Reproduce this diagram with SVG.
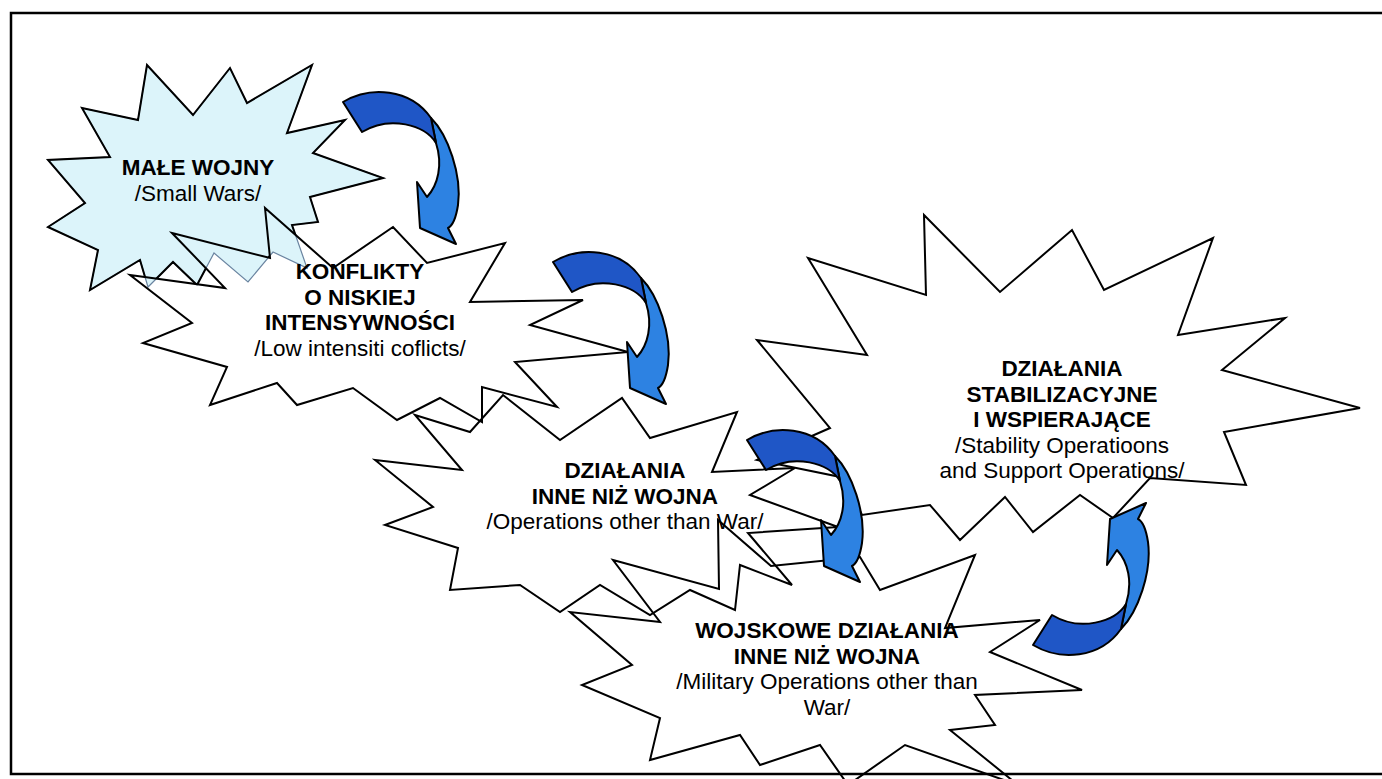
<svg xmlns="http://www.w3.org/2000/svg" width="1382" height="779" viewBox="0 0 1382 779">
<style>
.star{fill:none;stroke:#000;stroke-width:2;stroke-linejoin:miter}
.b{font-family:"Liberation Sans",Arial,sans-serif;font-weight:bold;font-size:22.5px;text-anchor:middle;fill:#000}
.r{font-family:"Liberation Sans",Arial,sans-serif;font-size:22.5px;text-anchor:middle;fill:#000}
.dk{fill:#1f56c6;stroke:#000;stroke-width:2;stroke-linejoin:round}
.lt{fill:#2d82e2;stroke:#000;stroke-width:2;stroke-linejoin:round}
</style>
<defs>
<mask id="m2">
<rect width="1382" height="779" fill="#fff"/>
<polygon fill="#000" points="172,233 270,258 265,208 333,268 393,227 427,263 505,243 470,302 583,300 530,325 628,352 515,362 557,407 482,387 482,422 440,398 397,420 353,388 297,405 277,383 210,405 227,367 143,343 192,323 130,275 225,288"/>
</mask>
<g id="arrow">
<path class="lt" d="M431,118 C448,135 462,175 458,205 C456,218 452,226 448,228 L456,244 L420,228 L417,182 L427,197 C438,185 443,165 436,143 Z"/>
<path class="dk" d="M343,102 C370,86 410,88 431,118 L436,143 C425,125 390,115 362,132 Z"/>
</g>
</defs>
<rect x="11" y="13" width="1400" height="761" fill="#fff" stroke="#000" stroke-width="2.5"/>

<g id="node-small-wars">
<polygon points="82,108 138,120 147,65 193,115 230,68 247,103 312,65 287,133 345,120 313,153 383,178 310,197 318,222 292,225 307,268 273,252 248,282 214,253 197,285 173,262 148,287 140,260 90,290 98,250 48,227 85,203 48,160 110,157" fill="#dcf4fa" stroke="#6a84a0" stroke-width="1.2"/>
<polygon class="star" mask="url(#m2)" points="82,108 138,120 147,65 193,115 230,68 247,103 312,65 287,133 345,120 313,153 383,178 310,197 318,222 292,225 307,268 273,252 248,282 214,253 197,285 173,262 148,287 140,260 90,290 98,250 48,227 85,203 48,160 110,157"/>
<text class="b" x="198" y="175">MAŁE WOJNY</text>
<text class="r" x="198" y="200.5">/Small Wars/</text>
</g>

<g id="node-low-intensity">
<polygon class="star" points="172,233 270,258 265,208 333,268 393,227 427,263 505,243 470,302 583,300 530,325 628,352 515,362 557,407 482,387 482,422 440,398 397,420 353,388 297,405 277,383 210,405 227,367 143,343 192,323 130,275 225,288"/>
<text class="b" x="360" y="279">KONFLIKTY</text>
<text class="b" x="360" y="304.5">O NISKIEJ</text>
<text class="b" x="360" y="330">INTENSYWNOŚCI</text>
<text class="r" x="360" y="355.5">/Low intensiti coflicts/</text>
</g>

<g id="node-ootw">
<polygon class="star" points="375,460 462,470 415,415 470,432 503,395 560,440 622,398 650,438 737,412 712,472 795,468 750,495 838,527 748,533 792,585 740,565 735,610 690,590 650,615 600,585 560,612 520,585 450,590 458,548 385,525 433,507"/>
<text class="b" x="625" y="478">DZIAŁANIA</text>
<text class="b" x="625" y="503.5">INNE NIŻ WOJNA</text>
<text class="r" x="625" y="529">/Operations other than War/</text>
</g>

<g id="node-sasp">
<polygon class="star" points="924,215 1000,292 1072,230 1104,290 1213,238 1178,335 1285,318 1222,370 1360,408 1224,432 1246,485 1150,478 1113,518 1080,495 1033,532 1005,497 960,540 930,505 862,515 845,478 757,460 830,428 757,340 867,355 808,258 926,295"/>
<text class="b" x="1062" y="376">DZIAŁANIA</text>
<text class="b" x="1062" y="401.5">STABILIZACYJNE</text>
<text class="b" x="1062" y="427">I WSPIERAJĄCE</text>
<text class="r" x="1062" y="452.5">/Stability Operatioons</text>
<text class="r" x="1062" y="478">and Support Operations/</text>
</g>

<g id="node-mootw">
<polygon class="star" points="613,560 719,589 718,520 771,566 860,557 880,590 975,555 945,628 1040,620 990,652 1082,690 975,695 995,725 950,730 1018,785 905,745 848,785 820,745 760,765 740,735 650,760 660,718 582,685 632,665 570,612 660,622"/>
<text class="b" x="827" y="638">WOJSKOWE DZIAŁANIA</text>
<text class="b" x="827" y="663.5">INNE NIŻ WOJNA</text>
<text class="r" x="827" y="689">/Military Operations other than</text>
<text class="r" x="827" y="714.5">War/</text>
</g>

<g id="connectors">
<use href="#arrow"/>
<use href="#arrow" transform="translate(210,160)"/>
<use href="#arrow" transform="translate(404,338)"/>
<use href="#arrow" transform="matrix(1,0,0,-1,690,747)"/>
</g>
</svg>
